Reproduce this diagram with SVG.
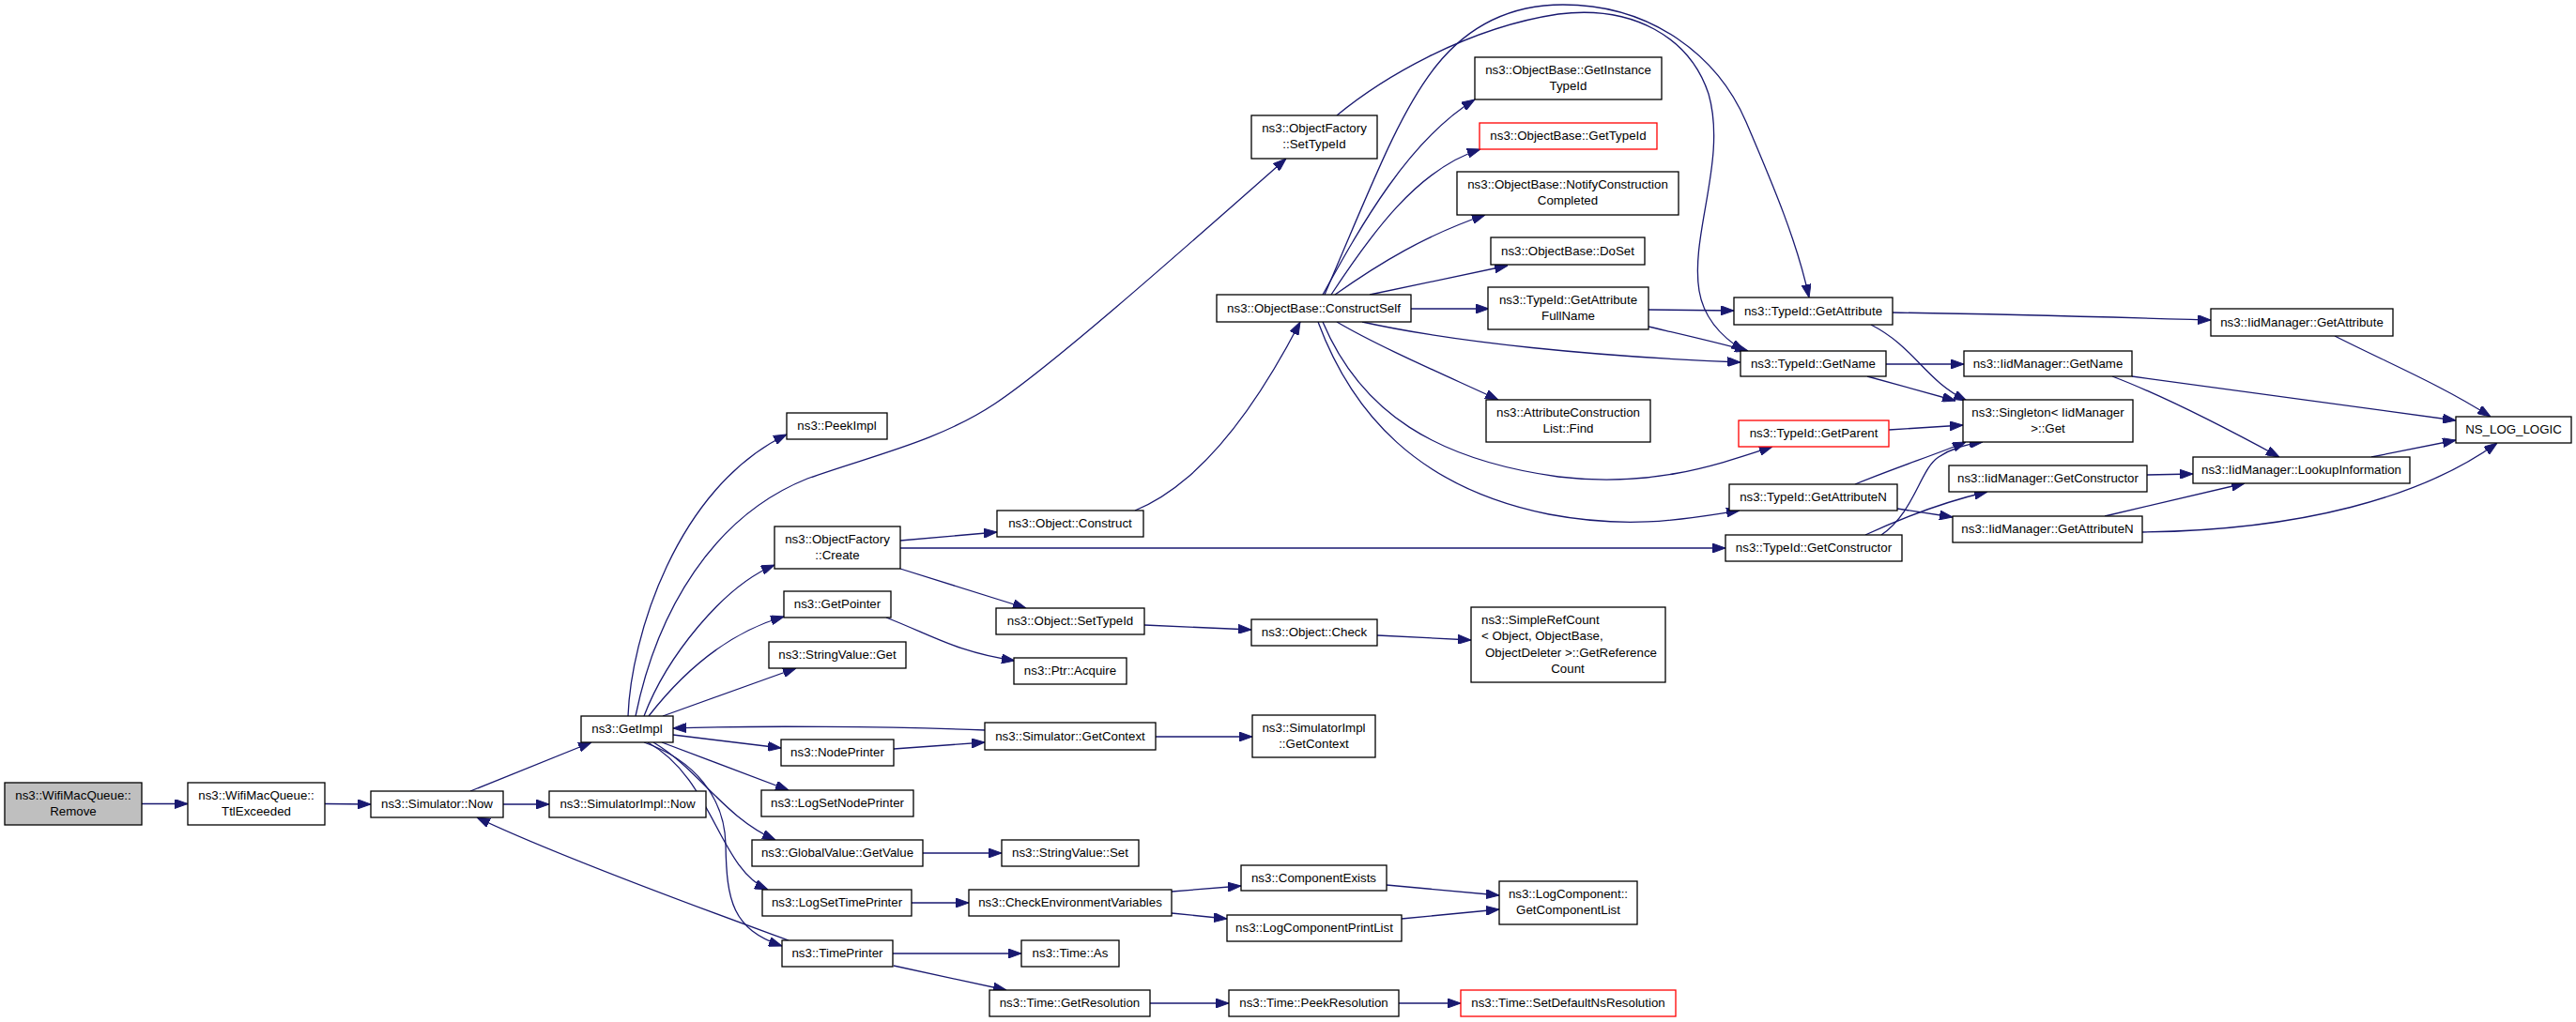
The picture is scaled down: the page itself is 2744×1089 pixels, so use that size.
<svg xmlns="http://www.w3.org/2000/svg" width="2744" height="1089" viewBox="0 0 2744 1089">
<style>
.node rect{fill:#fff;stroke:#000;stroke-width:1.3}
.node rect.gray{fill:#bfbfbf}
.node rect.red{stroke:#ff0000}
.node text{font-family:"Liberation Sans",Arial,sans-serif;font-size:13.3px;fill:#000;text-anchor:middle}
.node text.l{text-anchor:start}
.edges path{fill:none;stroke:#191970;stroke-width:1.3;marker-end:url(#arr)}
</style>
<defs>
<marker id="arr" viewBox="0 0 14 10" refX="14" refY="5" markerWidth="14" markerHeight="10" markerUnits="userSpaceOnUse" orient="auto"><path d="M0,0 L14,5 L0,10 z" fill="#191970" stroke="#191970" stroke-width="1"/></marker>
</defs>
<rect width="2744" height="1089" fill="#fff"/>
<g class="edges">
<path d="M151,856.5 L200,856.5"/>
<path d="M346,856.5 L395,857"/>
<path d="M501,843 L630,791"/>
<path d="M536,857 L585,857"/>
<path d="M669,763 C672,680 720,520 838,463"/>
<path d="M677,763 C700,650 760,550 860,510 C930,485 1000,470 1060,430 C1120,390 1250,275 1370,169"/>
<path d="M686,763 C710,700 770,625 825,602"/>
<path d="M691,763 C740,700 790,670 835,657"/>
<path d="M706,763 L848,712"/>
<path d="M717,783 L832,797"/>
<path d="M1049,778 C950,774 800,773 717,776"/>
<path d="M952,798 L1049,791"/>
<path d="M1231,785 L1334,785"/>
<path d="M705,791 L840,842"/>
<path d="M696,791 C745,820 770,870 826,895"/>
<path d="M690,791 C760,830 765,925 818,948"/>
<path d="M686,791 C740,810 772,850 773,900 C774,960 780,990 833,1008"/>
<path d="M840,1002 C780,980 600,915 508,871"/>
<path d="M951,1016 L1088,1016"/>
<path d="M952,1029 L1072,1055"/>
<path d="M1225,1069 L1309,1069"/>
<path d="M1490,1069 L1556,1069"/>
<path d="M983,909 L1067,909"/>
<path d="M971,962 L1032,962"/>
<path d="M1248,950 L1322,944"/>
<path d="M1248,973 L1307,979"/>
<path d="M1477,943 L1597,954"/>
<path d="M1493,979 L1597,969"/>
<path d="M944,658 C995,678 1020,695 1081,704"/>
<path d="M959,576 L1062,567"/>
<path d="M959,606 L1093,648"/>
<path d="M959,584 C1300,586 1600,585 1838,584"/>
<path d="M1219,666 L1333,671"/>
<path d="M1467,677 L1567,682"/>
<path d="M1209,544 C1280,515 1340,430 1385,343"/>
<path d="M1409,314 C1450,240 1500,150 1571,106"/>
<path d="M1418,314 C1460,250 1510,180 1577,159"/>
<path d="M1422,314 C1470,280 1520,250 1582,229"/>
<path d="M1459,314 L1606,283"/>
<path d="M1503,329 L1586,329"/>
<path d="M1756,330 L1847,331"/>
<path d="M1756,348 C1790,356 1830,365 1862,374"/>
<path d="M1451,343 C1550,365 1700,380 1854,386"/>
<path d="M1424,343 C1470,370 1540,400 1596,426"/>
<path d="M1409,343 C1450,440 1530,490 1660,508 C1760,520 1830,495 1888,476"/>
<path d="M1404,343 C1440,440 1510,520 1650,548 C1740,565 1800,552 1853,544"/>
<path d="M1411,314 C1460,200 1490,120 1530,70 C1570,20 1620,5 1665,5 C1760,5 1830,60 1860,130 C1890,200 1915,260 1927,317"/>
<path d="M1424,123 C1470,85 1560,30 1660,15 C1740,5 1800,40 1820,100 C1840,170 1800,250 1810,310 C1815,340 1835,360 1858,374"/>
<path d="M2016,333 C2150,335 2250,338 2355,341"/>
<path d="M1993,346 C2040,370 2050,405 2095,427"/>
<path d="M2009,388 L2092,388"/>
<path d="M1989,401 L2083,427"/>
<path d="M2012,458 L2091,453"/>
<path d="M1976,516 C2020,498 2060,485 2094,471"/>
<path d="M2004,570 C2040,545 2045,500 2065,487 C2080,477 2095,473 2112,471"/>
<path d="M2021,542 L2080,551"/>
<path d="M1987,570 C2030,550 2070,535 2117,524"/>
<path d="M2487,358 C2540,385 2600,410 2653,444"/>
<path d="M2271,401 L2616,448"/>
<path d="M2250,401 C2300,420 2360,450 2428,487"/>
<path d="M2287,506 L2336,505"/>
<path d="M2242,550 L2391,515"/>
<path d="M2282,567 C2450,565 2580,530 2660,472"/>
<path d="M2526,487 L2616,469"/>
</g>
<g id="n_remove" class="node"><rect class="gray" x="5" y="834" width="146" height="45"/><text x="78" y="851.5">ns3::WifiMacQueue::</text><text x="78" y="869">Remove</text></g>
<g id="n_ttl" class="node"><rect x="200" y="834" width="146" height="45"/><text x="273" y="851.5">ns3::WifiMacQueue::</text><text x="273" y="869">TtlExceeded</text></g>
<g id="n_now" class="node"><rect x="395" y="843" width="141" height="28"/><text x="465.5" y="861">ns3::Simulator::Now</text></g>
<g id="n_implnow" class="node"><rect x="585" y="843" width="167" height="28"/><text x="668.5" y="861">ns3::SimulatorImpl::Now</text></g>
<g id="n_getimpl" class="node"><rect x="619" y="763" width="98" height="28"/><text x="668" y="781">ns3::GetImpl</text></g>
<g id="n_peekimpl" class="node"><rect x="838" y="440" width="107" height="28"/><text x="891.5" y="458">ns3::PeekImpl</text></g>
<g id="n_ofcreate" class="node"><rect x="825" y="561" width="134" height="45"/><text x="892" y="578.5">ns3::ObjectFactory</text><text x="892" y="596">::Create</text></g>
<g id="n_getpointer" class="node"><rect x="835" y="630" width="114" height="28"/><text x="892" y="648">ns3::GetPointer</text></g>
<g id="n_svget" class="node"><rect x="819" y="684" width="146" height="28"/><text x="892" y="702">ns3::StringValue::Get</text></g>
<g id="n_nodeprinter" class="node"><rect x="832" y="788" width="120" height="28"/><text x="892" y="806">ns3::NodePrinter</text></g>
<g id="n_logsetnode" class="node"><rect x="811" y="842" width="162" height="28"/><text x="892" y="860">ns3::LogSetNodePrinter</text></g>
<g id="n_gvget" class="node"><rect x="801" y="895" width="182" height="28"/><text x="892" y="913">ns3::GlobalValue::GetValue</text></g>
<g id="n_logsettime" class="node"><rect x="812" y="948" width="159" height="28"/><text x="891.5" y="966">ns3::LogSetTimePrinter</text></g>
<g id="n_timeprinter" class="node"><rect x="833" y="1002" width="118" height="28"/><text x="892" y="1020">ns3::TimePrinter</text></g>
<g id="n_ofsettypeid" class="node"><rect x="1333" y="123" width="134" height="46"/><text x="1400" y="140.5">ns3::ObjectFactory</text><text x="1400" y="158">::SetTypeId</text></g>
<g id="n_construct" class="node"><rect x="1062" y="544" width="156" height="28"/><text x="1140" y="562">ns3::Object::Construct</text></g>
<g id="n_osettypeid" class="node"><rect x="1061" y="648" width="158" height="28"/><text x="1140" y="666">ns3::Object::SetTypeId</text></g>
<g id="n_acquire" class="node"><rect x="1080" y="701" width="120" height="28"/><text x="1140" y="719">ns3::Ptr::Acquire</text></g>
<g id="n_simgetctx" class="node"><rect x="1049" y="770" width="182" height="29"/><text x="1140" y="788.5">ns3::Simulator::GetContext</text></g>
<g id="n_svset" class="node"><rect x="1067" y="895" width="146" height="28"/><text x="1140" y="913">ns3::StringValue::Set</text></g>
<g id="n_checkenv" class="node"><rect x="1032" y="948" width="216" height="28"/><text x="1140" y="966">ns3::CheckEnvironmentVariables</text></g>
<g id="n_timeas" class="node"><rect x="1088" y="1002" width="104" height="28"/><text x="1140" y="1020">ns3::Time::As</text></g>
<g id="n_getres" class="node"><rect x="1054" y="1055" width="171" height="28"/><text x="1139.5" y="1073">ns3::Time::GetResolution</text></g>
<g id="n_constructself" class="node"><rect x="1296" y="314" width="207" height="29"/><text x="1399.5" y="332.5">ns3::ObjectBase::ConstructSelf</text></g>
<g id="n_check" class="node"><rect x="1333" y="660" width="134" height="28"/><text x="1400" y="678">ns3::Object::Check</text></g>
<g id="n_implgetctx" class="node"><rect x="1334" y="762" width="131" height="45"/><text x="1399.5" y="779.5">ns3::SimulatorImpl</text><text x="1399.5" y="797">::GetContext</text></g>
<g id="n_compexists" class="node"><rect x="1322" y="922" width="155" height="27"/><text x="1399.5" y="940">ns3::ComponentExists</text></g>
<g id="n_logcompprint" class="node"><rect x="1307" y="975" width="186" height="28"/><text x="1400" y="993">ns3::LogComponentPrintList</text></g>
<g id="n_peekres" class="node"><rect x="1309" y="1055" width="181" height="28"/><text x="1399.5" y="1073">ns3::Time::PeekResolution</text></g>
<g id="n_getinst" class="node"><rect x="1571" y="61" width="199" height="45"/><text x="1670.5" y="78.5">ns3::ObjectBase::GetInstance</text><text x="1670.5" y="96">TypeId</text></g>
<g id="n_obgettypeid" class="node"><rect class="red" x="1576" y="131" width="189" height="28"/><text x="1670.5" y="149">ns3::ObjectBase::GetTypeId</text></g>
<g id="n_notify" class="node"><rect x="1552" y="183" width="236" height="46"/><text x="1670" y="200.5">ns3::ObjectBase::NotifyConstruction</text><text x="1670" y="218">Completed</text></g>
<g id="n_doset" class="node"><rect x="1588" y="253" width="164" height="29"/><text x="1670" y="271.5">ns3::ObjectBase::DoSet</text></g>
<g id="n_gafullname" class="node"><rect x="1585" y="306" width="171" height="45"/><text x="1670.5" y="323.5">ns3::TypeId::GetAttribute</text><text x="1670.5" y="341">FullName</text></g>
<g id="n_acfind" class="node"><rect x="1583" y="426" width="175" height="45"/><text x="1670.5" y="443.5">ns3::AttributeConstruction</text><text x="1670.5" y="461">List::Find</text></g>
<g id="n_simpleref" class="node"><rect x="1567" y="647" width="207" height="80"/><text class="l" x="1578" y="664.5">ns3::SimpleRefCount</text><text class="l" x="1578" y="682">&lt; Object, ObjectBase,</text><text class="l" x="1582" y="700">ObjectDeleter &gt;::GetReference</text><text x="1670" y="717">Count</text></g>
<g id="n_getcomplist" class="node"><rect x="1597" y="939" width="147" height="46"/><text x="1670.5" y="956.5">ns3::LogComponent::</text><text x="1670.5" y="974">GetComponentList</text></g>
<g id="n_setdefault" class="node"><rect class="red" x="1556" y="1055" width="229" height="28"/><text x="1670.5" y="1073">ns3::Time::SetDefaultNsResolution</text></g>
<g id="n_getattr" class="node"><rect x="1847" y="317" width="169" height="29"/><text x="1931.5" y="335.5">ns3::TypeId::GetAttribute</text></g>
<g id="n_getname" class="node"><rect x="1854" y="374" width="155" height="27"/><text x="1931.5" y="392">ns3::TypeId::GetName</text></g>
<g id="n_getparent" class="node"><rect class="red" x="1852" y="448" width="160" height="28"/><text x="1932" y="466">ns3::TypeId::GetParent</text></g>
<g id="n_getattrn" class="node"><rect x="1842" y="516" width="179" height="28"/><text x="1931.5" y="534">ns3::TypeId::GetAttributeN</text></g>
<g id="n_getctor" class="node"><rect x="1838" y="570" width="188" height="28"/><text x="1932" y="588">ns3::TypeId::GetConstructor</text></g>
<g id="n_iidgetattr" class="node"><rect x="2355" y="329" width="194" height="29"/><text x="2452" y="347.5">ns3::IidManager::GetAttribute</text></g>
<g id="n_iidgetname" class="node"><rect x="2092" y="374" width="179" height="27"/><text x="2181.5" y="392">ns3::IidManager::GetName</text></g>
<g id="n_singleton" class="node"><rect x="2091" y="426" width="181" height="45"/><text x="2181.5" y="443.5">ns3::Singleton&lt; IidManager</text><text x="2181.5" y="461">&gt;::Get</text></g>
<g id="n_iidgetctor" class="node"><rect x="2076" y="496" width="211" height="28"/><text x="2181.5" y="514">ns3::IidManager::GetConstructor</text></g>
<g id="n_iidgetattrn" class="node"><rect x="2080" y="550" width="202" height="28"/><text x="2181" y="568">ns3::IidManager::GetAttributeN</text></g>
<g id="n_lookup" class="node"><rect x="2336" y="487" width="231" height="28"/><text x="2451.5" y="505">ns3::IidManager::LookupInformation</text></g>
<g id="n_nslog" class="node"><rect x="2616" y="444" width="123" height="28"/><text x="2677.5" y="462">NS_LOG_LOGIC</text></g>
</svg>
